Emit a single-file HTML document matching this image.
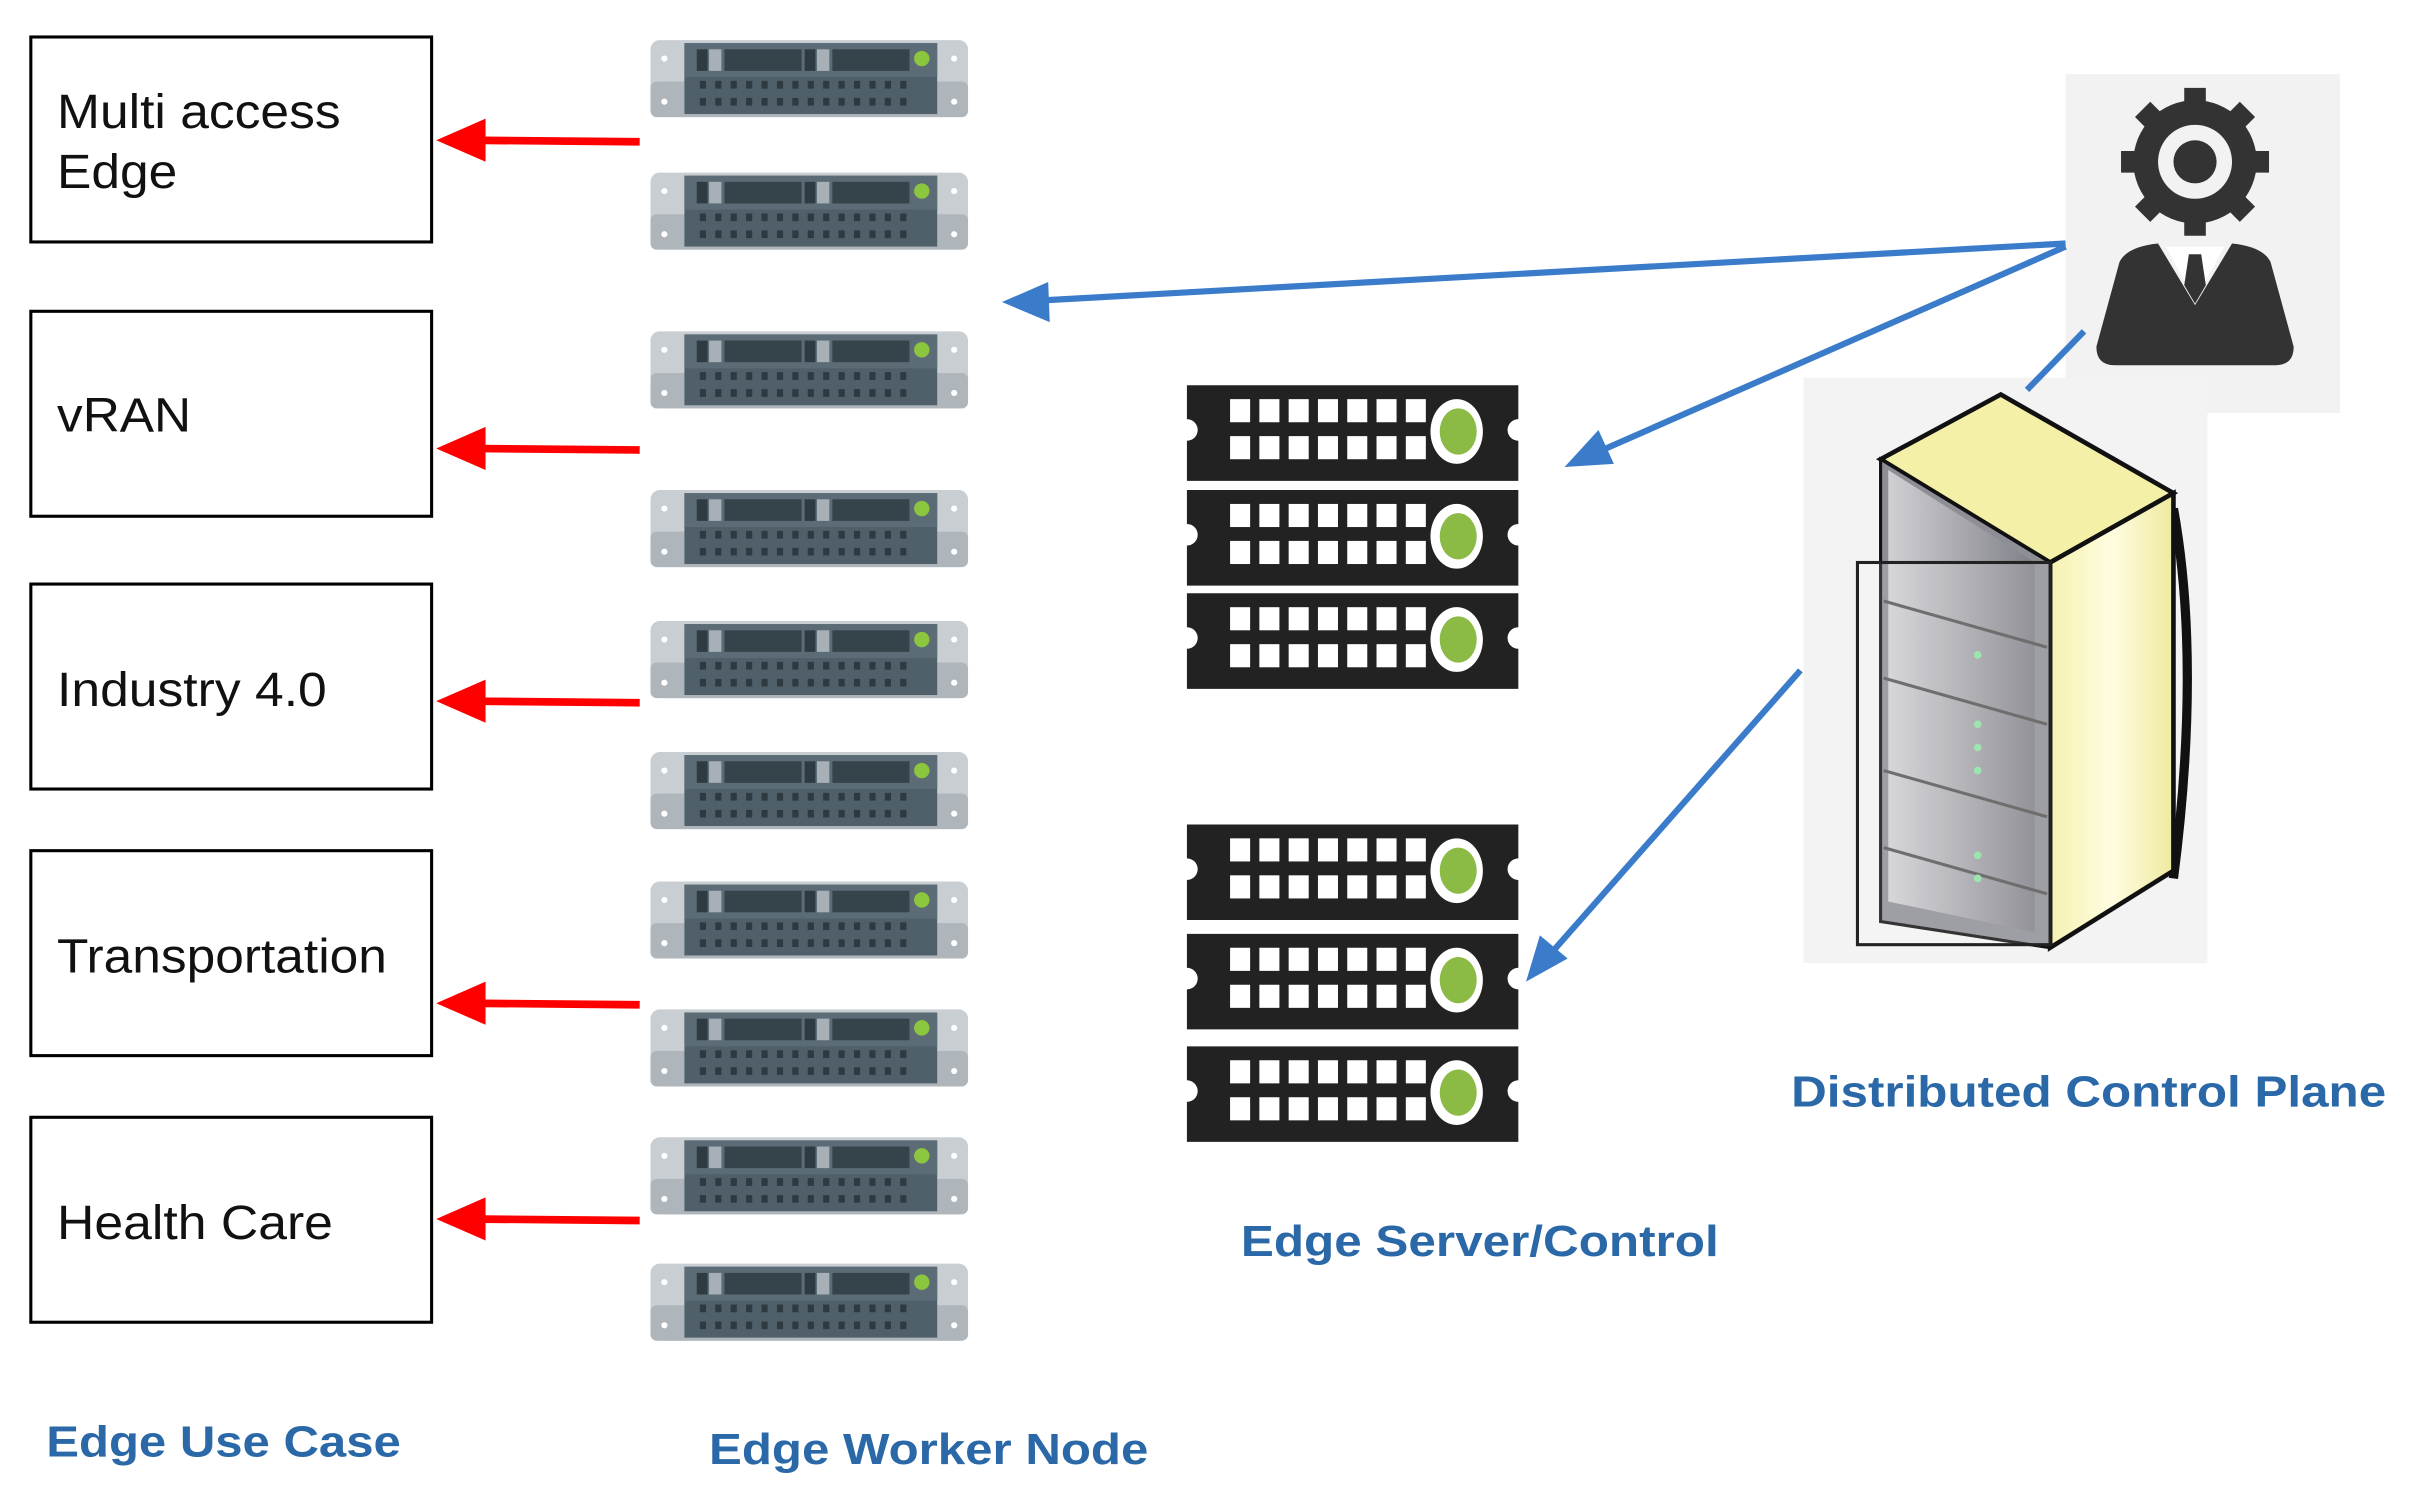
<!DOCTYPE html>
<html><head><meta charset="utf-8"><style>html,body{margin:0;padding:0;background:#fff}svg{display:block}</style></head>
<body>
<svg width="2417" height="1501" viewBox="0 0 1568 974" preserveAspectRatio="none" xmlns="http://www.w3.org/2000/svg" font-family="Liberation Sans, sans-serif">
<defs>
<g id="ws">
<rect x="0" y="0" width="206" height="50" rx="6" fill="#c9ced2"/>
<rect x="0" y="27" width="206" height="23" rx="4" fill="#aeb5bb"/>
<rect x="22" y="2" width="164" height="46" fill="#4f606b"/>
<rect x="22" y="2" width="164" height="22" fill="#5b6c77"/>
<rect x="30" y="6" width="7" height="14" fill="#2f3b42"/><rect x="38" y="6" width="8" height="14" fill="#a7b0b6"/>
<rect x="48" y="6" width="50" height="14" fill="#35434b"/>
<rect x="100" y="6" width="7" height="14" fill="#2f3b42"/><rect x="108" y="6" width="8" height="14" fill="#a7b0b6"/>
<rect x="118" y="6" width="50" height="14" fill="#35434b"/>
<circle cx="176" cy="12" r="5" fill="#8cc63f"/>
<path d="M32 29h136M32 40h136" stroke="#2e3a41" stroke-width="5" stroke-dasharray="4 6"/>
<circle cx="9" cy="12" r="2" fill="#fff"/><circle cx="197" cy="12" r="2" fill="#fff"/>
<circle cx="9" cy="40" r="2" fill="#fff"/><circle cx="197" cy="40" r="2" fill="#fff"/>
</g>
<g id="bs">
<path d="M0 0h215v22a6 6 0 0 0 0 14v26h-215v-26a6 6 0 0 0 0-14z" fill="#222"/>
<g fill="#fff">
<rect x="28" y="9" width="13" height="15"/><rect x="47" y="9" width="13" height="15"/><rect x="66" y="9" width="13" height="15"/><rect x="85" y="9" width="13" height="15"/><rect x="104" y="9" width="13" height="15"/><rect x="123" y="9" width="13" height="15"/><rect x="142" y="9" width="13" height="15"/>
<rect x="28" y="33" width="13" height="15"/><rect x="47" y="33" width="13" height="15"/><rect x="66" y="33" width="13" height="15"/><rect x="85" y="33" width="13" height="15"/><rect x="104" y="33" width="13" height="15"/><rect x="123" y="33" width="13" height="15"/><rect x="142" y="33" width="13" height="15"/>
</g>
<ellipse cx="175" cy="30" rx="17" ry="21" fill="#fff"/>
<ellipse cx="176" cy="30" rx="12" ry="15" fill="#8bba45"/>
</g>
<linearGradient id="yg" x1="0" x2="1"><stop offset="0" stop-color="#f4f2b0"/><stop offset="0.5" stop-color="#fffde0"/><stop offset="1" stop-color="#eeeaa0"/></linearGradient>
<linearGradient id="gg" x1="0" x2="1"><stop offset="0" stop-color="#d0d0d4"/><stop offset="1" stop-color="#808088"/></linearGradient>
</defs>

<g fill="#fff" stroke="#000" stroke-width="2">
<rect x="20" y="24" width="260" height="133"/>
<rect x="20" y="202" width="260" height="133"/>
<rect x="20" y="379" width="260" height="133"/>
<rect x="20" y="552" width="260" height="133"/>
<rect x="20" y="725" width="260" height="133"/>
</g>
<g font-size="31" fill="#111">
<text x="37" y="83" textLength="184" lengthAdjust="spacingAndGlyphs">Multi access</text>
<text x="37" y="122" textLength="78" lengthAdjust="spacingAndGlyphs">Edge</text>
<text x="37" y="280" textLength="87" lengthAdjust="spacingAndGlyphs">vRAN</text>
<text x="37" y="458" textLength="175" lengthAdjust="spacingAndGlyphs">Industry 4.0</text>
<text x="37" y="631" textLength="214" lengthAdjust="spacingAndGlyphs">Transportation</text>
<text x="37" y="804" textLength="179" lengthAdjust="spacingAndGlyphs">Health Care</text>
</g>

<g stroke="#f00" stroke-width="5" fill="#f00">
<line x1="415" y1="92" x2="305" y2="91"/><path d="M283 91l32-14v28z" stroke="none"/>
<line x1="415" y1="292" x2="305" y2="291"/><path d="M283 291l32-14v28z" stroke="none"/>
<line x1="415" y1="456" x2="305" y2="455"/><path d="M283 455l32-14v28z" stroke="none"/>
<line x1="415" y1="652" x2="305" y2="651"/><path d="M283 651l32-14v28z" stroke="none"/>
<line x1="415" y1="792" x2="305" y2="791"/><path d="M283 791l32-14v28z" stroke="none"/>
</g>

<use href="#ws" x="422" y="26"/><use href="#ws" x="422" y="112"/><use href="#ws" x="422" y="215"/><use href="#ws" x="422" y="318"/><use href="#ws" x="422" y="403"/><use href="#ws" x="422" y="488"/><use href="#ws" x="422" y="572"/><use href="#ws" x="422" y="655"/><use href="#ws" x="422" y="738"/><use href="#ws" x="422" y="820"/>

<use href="#bs" x="770" y="250"/><use href="#bs" x="770" y="318"/><use href="#bs" x="770" y="385"/>
<use href="#bs" x="770" y="535"/><use href="#bs" x="770" y="606"/><use href="#bs" x="770" y="679"/>

<rect x="1340" y="48" width="178" height="220" fill="#f2f2f2"/>
<g fill="#333">
<circle cx="1424" cy="105" r="40"/>
<g stroke="#333" stroke-width="14">
<line x1="1424" y1="57" x2="1424" y2="153"/><line x1="1376" y1="105" x2="1472" y2="105"/>
<line x1="1390" y1="71" x2="1458" y2="139"/><line x1="1458" y1="71" x2="1390" y2="139"/>
</g>
<path d="M1375 170q5-10 25-12l24 40l24-40q20 2 25 12l15 55q0 12-12 12h-104q-12 0-12-12z"/>
</g>
<circle cx="1424" cy="105" r="24" fill="#f2f2f2"/><circle cx="1424" cy="105" r="14" fill="#333"/>
<path d="M1405 160l19 35l19-35z" fill="#fff"/><path d="M1420 165h8l3 20l-7 12l-7-12z" fill="#333"/>

<rect x="1170" y="245" width="262" height="380" fill="#f3f3f3"/>
<path d="M1410 330q18 100 0 240" stroke="#111" stroke-width="6" fill="none"/>
<path d="M1220 298l78-42l112 64l-80 45z" fill="#f4f0a8" stroke="#111" stroke-width="3"/>
<path d="M1330 365l80-45v245l-80 50z" fill="url(#yg)" stroke="#111" stroke-width="3"/>
<path d="M1220 298v300l110 17v-250z" fill="#8e8e96" stroke="#111" stroke-width="2"/>
<path d="M1225 305l95 60v240l-95-20z" fill="url(#gg)"/>
<g stroke="#555" stroke-width="2"><line x1="1222" y1="390" x2="1328" y2="420"/><line x1="1222" y1="440" x2="1328" y2="470"/><line x1="1222" y1="500" x2="1328" y2="530"/><line x1="1222" y1="550" x2="1328" y2="580"/></g>
<g fill="#8ee0a0"><circle cx="1283" cy="425" r="2.5"/><circle cx="1283" cy="470" r="2.5"/><circle cx="1283" cy="485" r="2.5"/><circle cx="1283" cy="500" r="2.5"/><circle cx="1283" cy="555" r="2.5"/><circle cx="1283" cy="570" r="2.5"/></g>
<rect x="1205" y="365" width="125" height="248" fill="#fff" fill-opacity="0.15" stroke="#222" stroke-width="2"/>

<g stroke="#3a7cc9" stroke-width="4" fill="none">
<line x1="1340" y1="158" x2="675" y2="195"/>
<line x1="1340" y1="160" x2="1035" y2="294"/>
<line x1="1352" y1="215" x2="1315" y2="253"/>
<line x1="1168" y1="435" x2="1005" y2="620"/>
</g>
<g fill="#3a7cc9">
<path d="M650 196l30-13l1 26z"/>
<path d="M1015 303l22-24l10 22z"/>
<path d="M990 637l9-30l18 15z"/>
</g>

<g font-size="28" font-weight="bold" fill="#2a68a8">
<text x="1162" y="718" textLength="386" lengthAdjust="spacingAndGlyphs">Distributed Control Plane</text>
<text x="805" y="815" textLength="310" lengthAdjust="spacingAndGlyphs">Edge Server/Control</text>
<text x="30" y="945" textLength="230" lengthAdjust="spacingAndGlyphs">Edge Use Case</text>
<text x="460" y="950" textLength="285" lengthAdjust="spacingAndGlyphs">Edge Worker Node</text>
</g>
</svg>
</body></html>
